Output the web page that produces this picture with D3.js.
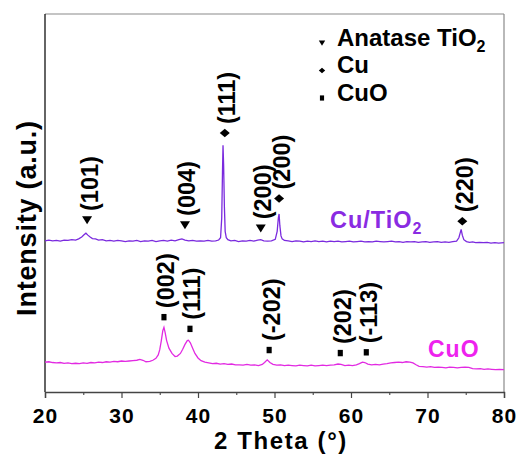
<!DOCTYPE html>
<html>
<head>
<meta charset="utf-8">
<script src="https://cdn.jsdelivr.net/npm/d3@7"></script>
<style>
  body { margin: 0; background: #fff; }
  text { font-family: "Liberation Sans", Arial, sans-serif; font-weight: bold; }
</style>
</head>
<body>
<div class="xrd"></div>
<script>
// plot area geometry
var margin = { top: 14, right: 21, bottom: 65, left: 45 };
var width = 525 - margin.left - margin.right;
var height = 457 - margin.top - margin.bottom;

// axis ticks (2 theta, degrees)
var xTicks = [20, 30, 40, 50, 60, 70, 80];
var xMinorTicks = [25, 35, 45, 55, 65, 75];

// patterns: [2 theta, intensity (a.u., stacked)]
var cuTiO2 = [
  [20,40.0],[20.5,40.2],[21,40.0],[21.5,40.1],[22,39.9],[22.5,40.2],[23,40.1],[23.5,40.3],
  [24,40.2],[24.4,40.5],[24.8,41.0],[25.1,41.6],[25.35,42.0],[25.6,41.5],[25.9,41.0],[26.2,40.6],
  [26.6,40.5],[27,40.2],[27.5,40.3],[28,40.0],[28.5,40.1],[29,39.9],[29.5,40.1],[30,40.0],
  [30.5,39.8],[31,40.0],[31.5,39.9],[32,40.1],[32.5,39.8],[33,40.0],[33.5,39.9],[34,40.1],
  [34.5,39.8],[35,40.0],[35.5,40.1],[36,39.9],[36.5,40.2],[37,40.0],[37.5,40.3],[37.9,40.5],
  [38.3,40.2],[38.8,40.0],[39.3,40.1],[39.8,39.9],[40.3,40.0],[40.8,39.9],[41.3,40.1],[41.8,39.9],
  [42.3,40.0],[42.7,40.2],[42.95,40.8],[43.1,46.0],[43.2,58.0],[43.27,65.3],[43.35,60.0],[43.45,49.0],
  [43.55,42.5],[43.7,40.8],[43.9,40.3],[44.3,40.0],[44.8,40.1],[45.3,39.8],[45.8,40.0],[46.3,39.9],
  [46.8,40.1],[47.3,39.9],[47.8,40.2],[48.2,40.3],[48.6,40.0],[49.1,39.9],[49.6,40.0],[50.1,40.4],
  [50.35,42.5],[50.5,46.0],[50.6,47.1],[50.7,44.0],[50.85,41.3],[51.0,40.5],[51.3,40.1],[51.8,40.0],
  [52.3,39.8],[52.8,40.0],[53.3,39.9],[53.8,39.7],[54.3,39.9],[54.8,39.8],[55.3,40.0],[55.8,39.8],
  [56.3,39.9],[56.8,39.7],[57.3,39.9],[57.8,39.8],[58.3,39.9],[58.8,39.7],[59.3,39.8],[59.8,39.9],
  [60.3,39.7],[60.8,39.8],[61.3,39.9],[61.8,39.7],[62.3,39.8],[62.8,39.7],[63.3,39.9],[63.8,39.8],
  [64.3,39.7],[64.8,39.8],[65.3,39.9],[65.8,39.7],[66.3,39.8],[66.8,39.6],[67.3,39.8],[67.8,39.7],
  [68.3,39.8],[68.8,39.6],[69.3,39.7],[69.8,39.8],[70.3,39.6],[70.8,39.7],[71.3,39.8],[71.8,39.6],
  [72.3,39.7],[72.8,39.6],[73.3,39.8],[73.8,39.9],[74.1,40.8],[74.3,42.3],[74.4,43.0],[74.55,41.5],
  [74.75,40.3],[75.1,39.8],[75.5,39.6],[75.9,39.7],[76.3,39.5],[76.8,39.6],[77.3,39.5],[77.8,39.6],
  [78.3,39.4],[78.8,39.5],[79.3,39.4],[80,39.5]
];

var cuO = [
  [20,7.9],[20.5,8.0],[21,7.8],[21.5,7.7],[22,7.8],[22.5,7.6],[23,7.7],[23.5,7.5],[24,7.6],
  [24.5,7.5],[25,7.7],[25.5,7.6],[26,7.8],[26.5,7.7],[27,7.9],[27.5,7.8],[28,8.0],[28.5,7.9],
  [29,8.1],[29.5,8.0],[30,8.2],[30.5,8.1],[31,8.2],[31.5,8.3],[32,8.4],[32.4,8.6],[32.8,8.4],
  [33.2,8.0],[33.7,8.1],[34.1,8.4],[34.5,8.9],[34.8,9.8],[35.0,11.2],[35.2,13.5],[35.4,16.2],
  [35.55,17.1],[35.7,15.8],[35.9,13.6],[36.2,11.6],[36.6,10.2],[37.0,9.4],[37.3,9.5],[37.7,10.2],
  [38.0,11.3],[38.3,12.6],[38.6,13.6],[38.75,13.7],[39.0,13.0],[39.3,11.6],[39.6,10.2],[40.0,9.0],
  [40.4,8.3],[40.9,7.9],[41.4,7.7],[41.9,7.5],[42.4,7.6],[42.9,7.4],[43.4,7.5],[43.9,7.3],
  [44.4,7.4],[44.9,7.2],[45.4,7.2],[45.9,7.1],[46.4,7.3],[46.9,7.1],[47.4,7.2],[47.9,7.0],
  [48.4,7.3],[48.7,7.8],[49.05,8.5],[49.4,7.8],[49.8,7.3],[50.3,7.1],[50.8,7.2],[51.3,7.0],
  [51.8,7.1],[52.3,7.0],[52.8,6.9],[53.3,7.1],[53.8,7.0],[54.3,6.9],[54.8,7.1],[55.3,6.9],
  [55.8,7.0],[56.3,7.1],[56.8,7.0],[57.3,7.1],[57.8,7.2],[58.3,7.4],[58.7,7.3],[59.2,7.0],
  [59.7,7.1],[60.2,7.0],[60.7,7.2],[61.1,7.5],[61.5,7.9],[61.8,7.8],[62.2,7.4],[62.7,7.2],
  [63.2,7.3],[63.7,7.2],[64.2,7.4],[64.7,7.5],[65.2,7.7],[65.7,7.8],[66.2,7.9],[66.7,7.8],
  [67.2,8.0],[67.7,7.9],[68.1,7.7],[68.5,7.2],[68.9,6.8],[69.4,6.7],[69.9,6.6],[70.4,6.7],
  [70.9,6.5],[71.4,6.6],[71.9,6.5],[72.4,6.4],[72.9,6.6],[73.4,6.5],[73.9,6.4],[74.4,6.5],
  [74.9,6.6],[75.4,6.5],[75.9,6.2],[76.4,6.1],[76.9,6.2],[77.4,6.0],[77.9,6.1],[78.4,6.0],
  [78.9,5.9],[79.4,6.0],[80,5.9]
];

// peak labels: [2 theta, intensity where the marker sits, hkl]
var tiO2Peaks = [[25.5,45.5,"(101)"],[38.3,44.2,"(004)"],[48.2,43.3,"(200)"]];
var cuPeaks = [[43.5,68.5,"(111)"],[50.6,51.2,"(200)"],[74.55,45.2,"(220)"]];
var cuOPeaks = [[35.55,19.8,"(002)"],[38.95,16.7,"(111)"],[49.3,11.1,"(-202)"],
                [58.6,10.3,"(202)"],[62.0,10.5,"(-113)"]];

// legend entries: marker, text, subscript
var legendItems = [["tri","Anatase TiO","2"],["dia","Cu",""],["sq","CuO",""]];

// scales
var xScale = d3.scaleLinear().domain([20, 80]).range([0, width]);
var yScale = d3.scaleLinear().domain([0, 100]).range([height, 0]);

function markerPath(type, s) {
    if (type == "tri") return "M" + (-s) + "," + (-s*0.75) + "L" + s + "," + (-s*0.75) + "L0," + (s*0.85) + "Z";
    if (type == "dia") return "M0," + (-s*0.85) + "L" + s + ",0L0," + (s*0.85) + "L" + (-s) + ",0Z";
    return "M" + (-s*0.8) + "," + (-s) + "H" + (s*0.8) + "V" + s + "H" + (-s*0.8) + "Z";
}

var svg = d3.select("div.xrd").append("svg")
    .attr("width", 525)
    .attr("height", 457)
    .append("g")
    .attr("transform", "translate(" + margin.left + "," + margin.top + ")");

// frame: top and right gray, left black
svg.append("line").attr("x1", 0).attr("y1", 0).attr("x2", width).attr("y2", 0)
    .attr("stroke", "#8a8a8a").attr("stroke-width", 1.2);
svg.append("line").attr("x1", width).attr("y1", 0).attr("x2", width).attr("y2", height)
    .attr("stroke", "#8a8a8a").attr("stroke-width", 1.2);
svg.append("line").attr("x1", 0).attr("y1", 0).attr("x2", 0).attr("y2", height)
    .attr("stroke", "#111").attr("stroke-width", 1.3);

// x axis
var xAxis = d3.axisBottom(xScale).tickValues(xTicks).tickSize(6).tickFormat(d3.format("d"));
var xAxisMinor = d3.axisBottom(xScale).tickValues(xMinorTicks).tickSize(3).tickFormat("");

svg.append("g")
    .attr("class", "x axis minor")
    .attr("transform", "translate(0," + height + ")")
    .call(xAxisMinor)
    .call(function(g) { g.select(".domain").remove(); })
    .selectAll("line").attr("stroke", "#555").attr("stroke-width", 1.2);

var gx = svg.append("g")
    .attr("class", "x axis")
    .attr("transform", "translate(0," + height + ")")
    .call(xAxis);
gx.select(".domain").attr("stroke", "#444").attr("stroke-width", 1.4);
gx.selectAll(".tick line").attr("stroke", "#444").attr("stroke-width", 1.2);
gx.selectAll(".tick text")
    .attr("y", 30.5)
    .attr("dy", 0)
    .attr("fill", "#000")
    .style("font-size", "21px")
    .style("letter-spacing", "1px")
    .style("font-family", "'Liberation Sans', Arial, sans-serif")
    .style("font-weight", "bold");

svg.append("text")
    .attr("x", 281 - margin.left)
    .attr("y", height + 57)
    .style("text-anchor", "middle")
    .style("font-size", "24px")
    .style("letter-spacing", "1.6px")
    .text("2 Theta (°)");

svg.append("text")
    .attr("transform", "translate(" + (36 - margin.left) + "," + (218 - margin.top) + ") rotate(-90)")
    .style("text-anchor", "middle")
    .style("font-size", "27px")
    .style("letter-spacing", "0.8px")
    .text("Intensity (a.u.)");

// patterns
var line = d3.line()
    .x(function(d) { return xScale(d[0]); })
    .y(function(d) { return yScale(d[1]); });

svg.append("path").datum(cuO)
    .attr("d", line)
    .attr("fill", "none")
    .attr("stroke", "#e22ae2")
    .attr("stroke-width", 1.3);

svg.append("path").datum(cuTiO2)
    .attr("d", line)
    .attr("fill", "none")
    .attr("stroke", "#7a2ade")
    .attr("stroke-width", 1.3);

// sample names
svg.append("text")
    .attr("x", 330 - margin.left)
    .attr("y", 228 - margin.top)
    .attr("fill", "#8a2be2")
    .style("font-size", "23.5px")
    .style("letter-spacing", "1px")
    .text("Cu/TiO")
    .append("tspan")
    .attr("dy", 6)
    .style("font-size", "16px")
    .text("2");

svg.append("text")
    .attr("x", 428 - margin.left)
    .attr("y", 357 - margin.top)
    .attr("fill", "#ee22ee")
    .style("font-size", "23px")
    .style("letter-spacing", "1px")
    .text("CuO");

// peak markers with rotated hkl labels
function drawPeaks(peaks, type, size) {
    var g = svg.append("g").selectAll(".peak")
        .data(peaks)
        .enter().append("g")
        .attr("class", "peak")
        .attr("transform", function(d) { return "translate(" + xScale(d[0]) + "," + yScale(d[1]) + ")"; });
    g.append("path")
        .attr("d", markerPath(type, size))
        .attr("fill", "#000");
    g.append("text")
        .attr("transform", "translate(2,-9) rotate(-90)")
        .attr("dy", "0.36em")
        .style("font-size", "23.5px")
        .text(function(d) { return d[2]; });
}
drawPeaks(tiO2Peaks, "tri", 5);
drawPeaks(cuPeaks, "dia", 5);
drawPeaks(cuOPeaks, "sq", 3.2);

// legend
var legend = svg.append("g")
    .attr("transform", "translate(" + (322 - margin.left) + "," + (43 - margin.top) + ")");
var items = legend.selectAll(".item")
    .data(legendItems)
    .enter().append("g")
    .attr("transform", function(d, i) { return "translate(0," + (i * 27.5) + ")"; });
items.append("path")
    .attr("d", function(d) { return markerPath(d[0], d[0] == "tri" ? 3.2 : (d[0] == "dia" ? 3.2 : 2.6)); })
    .attr("fill", "#000");
items.append("text")
    .attr("x", 15)
    .attr("y", 2.5)
    .style("font-size", "24px")
    .text(function(d) { return d[1]; })
    .append("tspan")
    .attr("dy", 6)
    .style("font-size", "16px")
    .text(function(d) { return d[2]; });
</script>
</body>
</html>
